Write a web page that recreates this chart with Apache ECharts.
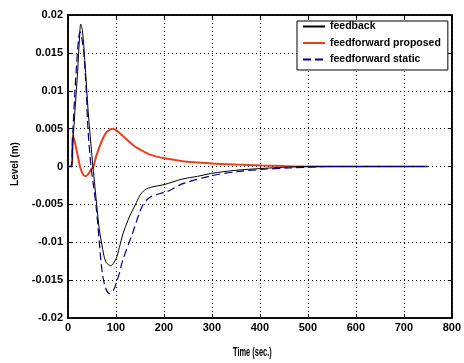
<!DOCTYPE html>
<html>
<head>
<meta charset="utf-8">
<script src="https://cdn.jsdelivr.net/npm/echarts@6/dist/echarts.min.js"></script>
<style>html,body{margin:0;padding:0;background:#fff}#c{width:464px;height:363px}</style>
</head>
<body>
<div id="c"></div>
<script>
// ---- data ----
var seriesNames = ['feedback', 'feedforward proposed', 'feedforward static'];
var xTicks = [0, 100, 200, 300, 400, 500, 600, 700, 800];
var yTicks = [-0.02, -0.015, -0.01, -0.005, 0, 0.005, 0.01, 0.015, 0.02];

var fbT = [0, 7, 10, 15, 20, 24, 26.5, 30, 35, 42, 47, 52, 56, 60, 65, 70, 75, 80, 89, 100, 107, 115, 125, 131, 140, 150, 160, 175, 200, 238, 270, 300, 350, 404, 450, 500, 600, 750];
var fbY = [0, 0, 0.003, 0.0078, 0.0125, 0.017, 0.0188, 0.018, 0.014, 0.0073, 0.0035, 0, -0.0026, -0.0052, -0.0082, -0.0101, -0.0118, -0.0127, -0.0131, -0.0122, -0.0107, -0.0088, -0.0071, -0.0062, -0.0051, -0.0038, -0.0031, -0.0027, -0.0024, -0.00166, -0.0013, -0.0009, -0.0005, -0.00026, -0.0001, 0, 0, 0];

var ffpT = [0, 8, 10, 15, 20, 25, 30, 36, 42, 48, 53, 58, 65, 72, 80, 88, 93, 100, 110, 120, 140, 160, 169, 185, 200, 238, 300, 350, 404, 450, 500, 750];
var ffpY = [0, 0, 0.0042, 0.003, 0.0015, 0, -0.0009, -0.0013, -0.001, -0.0004, 0, 0.0012, 0.0025, 0.0036, 0.0045, 0.0049, 0.005, 0.0048, 0.0043, 0.0037, 0.0026, 0.0019, 0.0016, 0.0013, 0.0011, 0.0007, 0.0004, 0.00025, 0.00013, 0.00005, 0, 0];

var ffsT = [0, 6, 10, 14, 18, 22, 25, 28, 33, 38, 42, 48, 53, 59, 65, 71, 78, 87, 95, 100, 107, 114, 134, 155, 170, 190, 211, 238, 300, 350, 400, 460, 550, 750];
var ffsY = [0, 0, 0.0045, 0.0095, 0.0135, 0.0168, 0.0178, 0.0172, 0.015, 0.01, 0.0045, 0, -0.0025, -0.0055, -0.0098, -0.0138, -0.016, -0.0168, -0.0163, -0.0155, -0.0141, -0.0124, -0.0089, -0.0052, -0.0041, -0.0036, -0.0032, -0.0023, -0.0012, -0.0007, -0.0004, -0.0002, 0, 0];

function pairs(t, y) { return t.map(function (v, i) { return [v, y[i]]; }); }

var font = 'Liberation Sans, Arial, sans-serif';
var chart = echarts.init(document.getElementById('c'), null, { renderer: 'canvas' });

var grid = { left: 68, right: 10, top: 15, bottom: 45, show: true, borderColor: '#000', borderWidth: 1.5, backgroundColor: '#fff' };
var gridStyle = { show: true, lineStyle: { color: '#000', type: [1, 3], width: 1 } };

chart.setOption({
  animation: false,
  backgroundColor: '#fff',
  grid: grid,
  legend: {
    left: 297, top: 21, orient: 'vertical',
    padding: [0, 7, 5, 5],
    itemWidth: 22, itemHeight: 10, itemGap: 5.5,
    backgroundColor: '#fff', borderColor: '#000', borderWidth: 1,
    borderRadius: 0,
    itemStyle: { opacity: 0, borderWidth: 0 },
    textStyle: { fontFamily: font, fontWeight: 'bold', fontSize: 10.5, color: '#000', lineHeight: 10 },
    data: seriesNames
  },
  xAxis: [{
    type: 'value', min: xTicks[0], max: xTicks[xTicks.length - 1], interval: 100,
    axisLine: { show: true, onZero: false, lineStyle: { color: '#000', width: 1.5 } },
    axisTick: { show: true, inside: true, length: 4, lineStyle: { color: '#000' } },
    axisLabel: { color: '#000', fontFamily: font, fontWeight: 'bold', fontSize: 11, margin: 4 },
    splitLine: gridStyle
  }, {
    type: 'value', position: 'top', min: xTicks[0], max: xTicks[xTicks.length - 1], interval: 100,
    axisLine: { show: true, onZero: false, lineStyle: { color: '#000', width: 1.5 } },
    axisTick: { show: true, inside: true, length: 4, lineStyle: { color: '#000' } },
    axisLabel: { show: false }, splitLine: { show: false }
  }],
  yAxis: [{
    type: 'value', min: yTicks[0], max: yTicks[yTicks.length - 1], interval: 0.005,
    axisLine: { show: true, onZero: false, lineStyle: { color: '#000', width: 1.5 } },
    axisTick: { show: true, inside: true, length: 4, lineStyle: { color: '#000' } },
    axisLabel: { color: '#000', fontFamily: font, fontWeight: 'bold', fontSize: 11, margin: 5 },
    splitLine: gridStyle
  }, {
    type: 'value', position: 'right', min: yTicks[0], max: yTicks[yTicks.length - 1], interval: 0.005,
    axisLine: { show: true, onZero: false, lineStyle: { color: '#000', width: 1.5 } },
    axisTick: { show: true, inside: true, length: 4, lineStyle: { color: '#000' } },
    axisLabel: { show: false }, splitLine: { show: false }
  }],
  graphic: [
    { type: 'text', x: 233, y: 347, scaleX: 0.62, style: { text: 'Time (sec.)', fontFamily: font, fontWeight: 'bold', fontSize: 12, fill: '#000' } },
    { type: 'text', x: 15, y: 164, rotation: Math.PI / 2, style: { text: 'Level (m)', fontFamily: font, fontWeight: 'bold', fontSize: 10, fill: '#000', align: 'center', verticalAlign: 'middle' } }
  ],
  series: [{
    name: seriesNames[0], type: 'line', symbol: 'none', smooth: 0.3, z: 3,
    lineStyle: { color: '#000', width: 1 }, itemStyle: { color: '#000' },
    data: pairs(fbT, fbY)
  }, {
    name: seriesNames[1], type: 'line', symbol: 'none', smooth: 0.3, z: 2,
    lineStyle: { color: '#e8401c', width: 2 }, itemStyle: { color: '#e8401c' },
    data: pairs(ffpT, ffpY)
  }, {
    name: seriesNames[2], type: 'line', symbol: 'none', smooth: 0.3, z: 4,
    lineStyle: { color: '#00008b', width: 1.2, type: [8, 4] }, itemStyle: { color: '#00008b' },
    data: pairs(ffsT, ffsY)
  }]
});
</script>
</body>
</html>
